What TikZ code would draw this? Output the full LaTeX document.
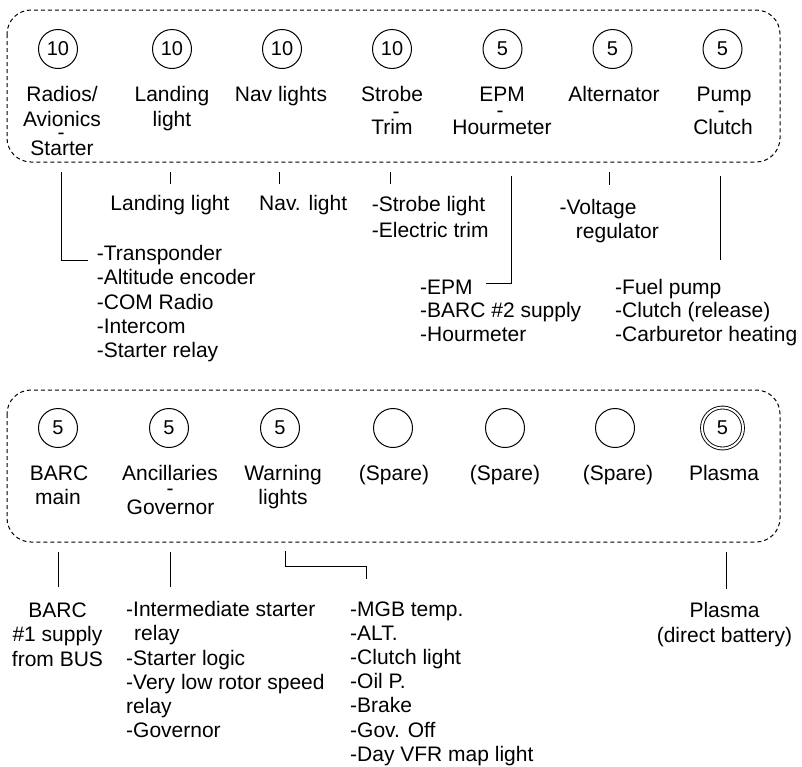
\documentclass[tikz,border=0pt]{standalone}
\usepackage{fontspec}
\setmainfont{Liberation Sans}
\begin{document}
\begin{tikzpicture}[x=1pt,y=-1pt,
  every node/.style={inner sep=0pt, text=black},
  fuse/.style={draw, circle, minimum size=39pt, line width=1pt, font=\fontsize{20}{24}\selectfont},
  lbl/.style={anchor=base, font=\fontsize{21}{25}\selectfont},
  lbw/.style={anchor=base west, font=\fontsize{21}{25}\selectfont},
  lst/.style={anchor=north west, align=left, font=\fontsize{21}{#1}\selectfont},
  lstc/.style={anchor=north, align=center, font=\fontsize{21}{#1}\selectfont},
  grp/.style={draw, dash pattern=on 4pt off 3pt, rounded corners=24pt, line width=1pt},
  wire/.style={line width=1pt}]
\useasboundingbox (0,0) rectangle (802,766);

% ---------- top group ----------
\draw[grp] (7,10) rectangle (780,162);
\node[fuse] (t1) at (58,49) {10};
\node[fuse] (t2) at (172,49) {10};
\node[fuse] (t3) at (282,49) {10};
\node[fuse] (t4) at (392,49) {10};
\node[fuse] (t5) at (502.5,49) {5};
\node[fuse] (t6) at (612.5,49) {5};
\node[fuse] (t7) at (722.5,49) {5};

\node[lbl] (t1a) at (62,101.5) {Radios/};
\node[lbl] (t1b) at (62,126.5) {Avionics};
\node[lbl] (t1s) at (61,139) {-};
\node[lbl] (t1c) at (62,155.5) {Starter};
\node[lbl] (t2a) at (172,101.5) {Landing};
\node[lbl] (t2b) at (172,126.5) {light};
\node[lbl] (t3a) at (281,101.5) {Nav lights};
\node[lbl] (t4a) at (392,101.5) {Strobe};
\node[lbl] (t4s) at (396,118.2) {-};
\node[lbl] (t4b) at (392,134.5) {Trim};
\node[lbl] (t5a) at (502,101.5) {EPM};
\node[lbl] (t5s) at (500,117.2) {-};
\node[lbl] (t5b) at (502,134.5) {Hourmeter};
\node[lbl] (t6a) at (614,101.5) {Alternator};
\node[lbl] (t7a) at (724,101.5) {Pump};
\node[lbl] (t7s) at (721,117.2) {-};
\node[lbl] (t7b) at (723,134.5) {Clutch};

% top connectors
\coordinate (r1) at (61,172);
\coordinate (r2) at (88,260);
\draw[wire] (r1) |- (r2);
\node[lst=24.4] (l1) at (96.7,243.1) {\strut-Transponder\\-Altitude encoder\\-COM Radio\\-Intercom\\-Starter relay};

\coordinate (g1) at (170,172);
\coordinate (g2) at (170,184);
\draw[wire] (g1) -- (g2);
\node[lbl] (l2) at (170,210.8) {Landing light};

\coordinate (n1) at (279.5,172);
\coordinate (n2) at (279.5,184);
\draw[wire] (n1) -- (n2);
\node[lbw] (l3) at (259,210.8) {Nav. light};

\coordinate (s1) at (390,172);
\coordinate (s2) at (390,184);
\draw[wire] (s1) -- (s2);
\node[lst=26] (l4) at (371.7,192.8) {\strut-Strobe light\\-Electric trim};

\coordinate (e1) at (511.7,175.7);
\coordinate (e2) at (486,283.3);
\draw[wire] (e1) |- (e2);
\node[lst=23.3] (l5) at (420,277.9) {\strut-EPM\\-BARC \#2 supply\\-Hourmeter};

\coordinate (a1) at (609,171.7);
\coordinate (a2) at (609,185);
\draw[wire] (a1) -- (a2);
\node[lst=24] (l6) at (559.3,197.7) {\strut-Voltage\\\hspace*{16.4pt}regulator};

\coordinate (p1) at (720.7,175.7);
\coordinate (p2) at (720.7,260);
\draw[wire] (p1) -- (p2);
\node[lst=23.3] (l7) at (615,277.9) {\strut-Fuel pump\\-Clutch (release)\\-Carburetor heating};

% ---------- bottom group ----------
\draw[grp] (7,390) rectangle (780,542);
\node[fuse] (b1) at (58,428) {5};
\node[fuse] (b2) at (169,428) {5};
\node[fuse] (b3) at (280,428) {5};
\node[fuse] (b4) at (393,428) {};
\node[fuse] (b5) at (505,428) {};
\node[fuse] (b6) at (615,428) {};
\node[fuse, minimum size=41pt, double, double distance=2pt, line width=0.9pt] (b7) at (722.5,428) {5};

\node[lbl] (b1a) at (59,480.5) {BARC};
\node[lbl] (b1b) at (58,504.5) {main};
\node[lbl] (b2a) at (170,480.5) {Ancillaries};
\node[lbl] (b2s) at (170,495) {-};
\node[lbl] (b2b) at (170.5,514.5) {Governor};
\node[lbl] (b3a) at (283,480.5) {Warning};
\node[lbl] (b3b) at (283,504.5) {lights};
\node[lbl] (b4a) at (394,480.5) {(Spare)};
\node[lbl] (b5a) at (505,480.5) {(Spare)};
\node[lbl] (b6a) at (618,480.5) {(Spare)};
\node[lbl] (b7a) at (724,480.5) {Plasma};

% bottom connectors
\coordinate (k1) at (58.3,551.7);
\coordinate (k2) at (58.3,586.7);
\draw[wire] (k1) -- (k2);
\node[lstc=24.5] (m1) at (57.5,599.7) {\strut BARC\\\#1 supply\\from BUS};

\coordinate (q1) at (170.7,551.7);
\coordinate (q2) at (170.7,586.7);
\draw[wire] (q1) -- (q2);
\node[lst=24.3] (m2) at (126,599.2) {\strut-Intermediate starter\\\hspace*{8pt}relay\\-Starter logic\\-Very low rotor speed\\relay\\-Governor};

\coordinate (w1) at (285,551);
\coordinate (w2) at (366.7,566.7);
\coordinate (w3) at (366.7,579.3);
\draw[wire] (w1) |- (w2) -- (w3);
\node[lst=24.2] (m3) at (350,598.9) {\strut-MGB temp.\\-ALT.\\-Clutch light\\-Oil P.\\-Brake\\-Gov. Off\\-Day VFR map light};

\coordinate (v1) at (726,552.3);
\coordinate (v2) at (726,589.3);
\draw[wire] (v1) -- (v2);
\node[lstc=24.5] (m4) at (724.5,600.4) {\strut Plasma\\(direct battery)};
\end{tikzpicture}
\end{document}
